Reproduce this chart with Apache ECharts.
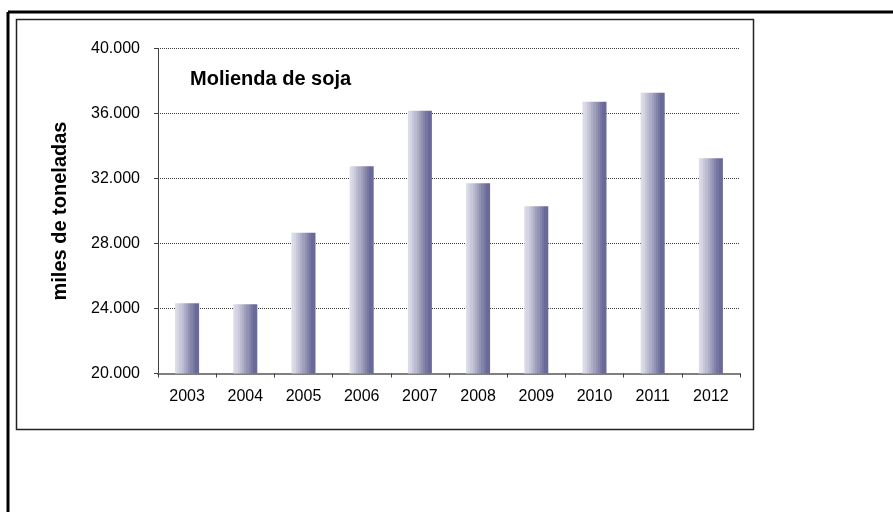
<!DOCTYPE html>
<html>
<head>
<meta charset="utf-8">
<script src="https://cdn.jsdelivr.net/npm/echarts@6/dist/echarts.min.js"></script>
<style>
  html, body { margin: 0; padding: 0; background: #fff; }
  #main { width: 893px; height: 512px; }
</style>
</head>
<body>
<div id="main"></div>
<script>
// años y molienda (miles de toneladas)
const years = ['2003', '2004', '2005', '2006', '2007', '2008', '2009', '2010', '2011', '2012']
const molienda = [24330, 24260, 28660, 32760, 36170, 31710, 30300, 36720, 37270, 33250]
const yTicks = [20000, 24000, 28000, 32000, 36000, 40000]

// bandas del degradado de la barra (claro -> oscuro)
const bandColors = ['#dcdce8', '#d4d4e2', '#c8c8da', '#bcbcd0', '#aeaec6', '#a0a0bc', '#9292b2', '#8484aa', '#7676a2', '#6a6a9a', '#6a6a9a']

function steppedGradient(colors) {
  const stops = []
  const n = colors.length
  colors.forEach((c, i) => {
    stops.push({ offset: i / n, color: c })
    stops.push({ offset: (i + 1) / n - 0.0001, color: c })
  })
  return new echarts.graphic.LinearGradient(0, 0, 1, 0, stops)
}

const chart = echarts.init(document.getElementById('main'))

const option = {
  animation: false,
  backgroundColor: '#fff',
  textStyle: { fontFamily: 'Liberation Sans, Arial, sans-serif' },
  title: {
    text: 'Molienda de soja',
    left: 185,
    top: 64,
    textStyle: { fontSize: 20, fontWeight: 'bold', color: '#000' },
  },
  grid: {
    left: 158,
    right: 153,
    top: 48.5,
    bottom: 138.5,
  },
  xAxis: {
    type: 'category',
    data: years,
    axisLine: { lineStyle: { color: '#7f7f7f', width: 2 } },
    axisTick: { show: true, alignWithLabel: false, length: 4, lineStyle: { color: '#404040' } },
    axisLabel: { fontSize: 16, color: '#000', margin: 15 },
  },
  yAxis: {
    type: 'value',
    min: 20000,
    max: 40000,
    interval: 4000,
    name: 'miles de toneladas',
    nameLocation: 'middle',
    nameGap: 88,
    nameTextStyle: { fontSize: 20, fontWeight: 'bold', color: '#000' },
    axisLine: { show: true, lineStyle: { color: '#404040', width: 1 } },
    axisTick: { show: true, length: 4, lineStyle: { color: '#404040' } },
    axisLabel: {
      fontSize: 16,
      color: '#000',
      margin: 18,
      formatter: (v) => yTicks.includes(v) ? v.toLocaleString('de-DE') : '',
    },
    splitLine: { show: true, lineStyle: { color: '#404040', type: [1, 1], width: 1 } },
  },
  series: [
    {
      type: 'bar',
      data: molienda,
      barWidth: 24,
      itemStyle: { color: steppedGradient(bandColors) },
    },
  ],
  graphic: [
    // marco exterior
    { type: 'line', shape: { x1: 8, y1: 12, x2: 893, y2: 12 }, style: { stroke: '#000', lineWidth: 3 } },
    { type: 'line', shape: { x1: 8, y1: 12, x2: 8, y2: 512 }, style: { stroke: '#000', lineWidth: 3 } },
    // marco del gráfico
    { type: 'rect', shape: { x: 16.5, y: 19.5, width: 737, height: 410 }, style: { fill: 'none', stroke: '#222', lineWidth: 1.5 } },
  ],
}

chart.setOption(option)
</script>
</body>
</html>
